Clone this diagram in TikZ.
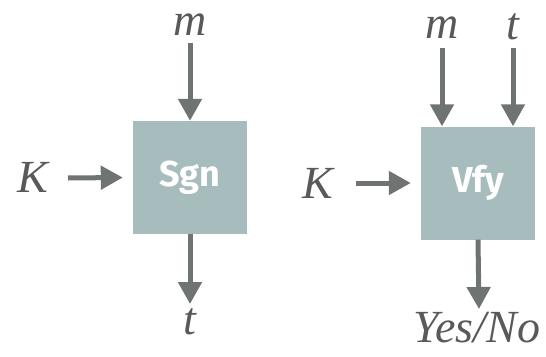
\documentclass[tikz,border=0pt]{standalone}
\usepackage{fontspec}
\setmainfont{Liberation Serif}
\newfontfamily\boxfont{Fira Sans}
\usetikzlibrary{arrows.meta}
\definecolor{boxfill}{HTML}{A7BCBC}
\definecolor{arrowgray}{HTML}{6F7371}
\definecolor{labelgray}{HTML}{58595A}
\tikzset{
  proc/.style={fill=boxfill, draw=none, minimum width=114pt, minimum height=113pt, inner sep=0pt,
    text=white, font=\boxfont\bfseries\fontsize{36}{40}\selectfont},
  lbl/.style={text=labelgray, inner sep=0pt, font=\itshape\fontsize{46}{50}\selectfont},
  arr/.style={draw=arrowgray, line width=5pt, -{Triangle[length=22pt,width=23pt]}}
}
\begin{document}
\begin{tikzpicture}[x=1pt,y=-1pt]
\useasboundingbox (0,0) rectangle (546,356);
% Sgn
\node[proc] (sgn) at (190,177.5) {Sgn};
\node[lbl] (m1) at (190,25) {m};
\node[lbl] (k1) at (33,177) {K};
\node[lbl] (t1) at (190,322) {t};
\coordinate (m1s) at (190,43);
\coordinate (k1s) at (68,178);
\coordinate (t1e) at (190,304);
\draw[arr] (m1s) -- (sgn.north);
\draw[arr] (k1s) -- ([xshift=-10pt]sgn.west);
\draw[arr] (sgn.south) -- (t1e);
% Vfy
\node[proc] (vfy) at (478,183) {Vfy};
\node[lbl] (m2) at (442,28) {m};
\node[lbl] (t2) at (513,27) {t};
\node[lbl] (k2) at (318,183) {K};
\node[lbl] (yn) at (477,328) {Yes/No};
\coordinate (m2s) at (442,48);
\coordinate (t2s) at (513,48);
\coordinate (k2s) at (356,183);
\coordinate (yne) at (479,309);
\draw[arr] (m2s) -- (m2s |- vfy.north);
\draw[arr] (t2s) -- (t2s |- vfy.north);
\draw[arr] (k2s) -- ([xshift=-10pt]vfy.west);
\draw[arr] (vfy.south) -- (yne);
\end{tikzpicture}
\end{document}
